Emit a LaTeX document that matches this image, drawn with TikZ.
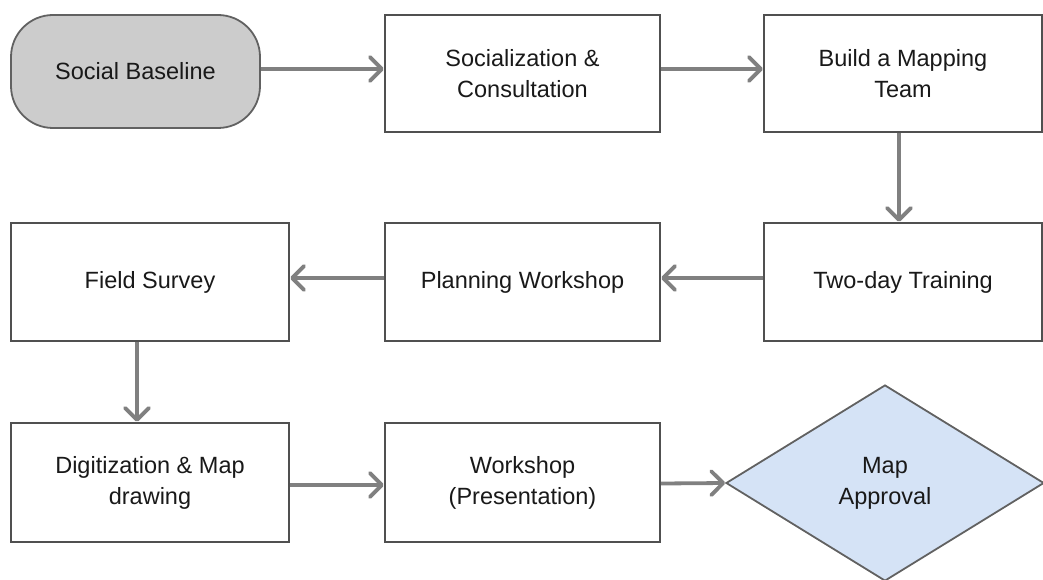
\documentclass[tikz,border=0pt]{standalone}
\usepackage{fontspec}
\setmainfont{Liberation Sans}
\usetikzlibrary{arrows.meta,shapes.geometric}
\definecolor{boxline}{HTML}{505050}
\definecolor{arrowgray}{HTML}{808080}
\definecolor{sbfill}{HTML}{CCCCCC}
\definecolor{mapfill}{HTML}{D5E3F6}
\begin{document}
\begin{tikzpicture}[x=1pt,y=-1pt,
  every node/.style={font=\fontsize{23.5}{31}\selectfont, text=black!90, align=center},
  stepbox/.style={draw=boxline, line width=2.4pt, fill=white, rectangle, inner sep=0pt},
  startbox/.style={draw=boxline!90, line width=1.8pt, fill=sbfill, rectangle, rounded corners=42pt, inner sep=0pt,
     minimum width=249pt, minimum height=113pt},
  decision/.style={draw=boxline!90, line width=1.8pt, fill=mapfill, diamond, inner sep=0pt,
     minimum width=318pt, minimum height=196pt, aspect=1.62},
  flow/.style={draw=arrowgray, line width=3.8pt, -{Straight Barb[length=12pt,width=24pt,line cap=round,line join=round]}}
]
\useasboundingbox (0,0) rectangle (1043,580);
\node[startbox] (sb) at (135.5,71.5) {Social Baseline};
\node[stepbox, minimum width=275pt, minimum height=117pt] (soc) at (522.5,73.5) {Socialization \&\\Consultation};
\node[stepbox, minimum width=278pt, minimum height=117pt] (team) at (903,73.5) {Build a Mapping\\Team};
\node[stepbox, minimum width=278pt, minimum height=118pt] (train) at (903,282) {Two-day Training};
\node[stepbox, minimum width=275pt, minimum height=118pt] (plan) at (522.5,282) {Planning Workshop};
\node[stepbox, minimum width=278pt, minimum height=118pt] (field) at (150,282) {Field Survey};
\node[stepbox, minimum width=278pt, minimum height=119pt] (digi) at (150,482.5) {Digitization \& Map\\drawing};
\node[stepbox, minimum width=275pt, minimum height=119pt] (pres) at (522.5,482.5) {Workshop\\(Presentation)};
\node[decision] (map) at (885,483) {Map\\Approval};

\draw[flow] ([yshift=2.5pt]sb.east) -- ([yshift=4.5pt]soc.west);
\draw[flow] ([yshift=4.5pt]soc.east) -- ([yshift=4.5pt]team.west);
\draw[flow] ([xshift=-4pt]team.south) -- ([xshift=-4pt]train.north);
\draw[flow] ([yshift=4pt]train.west) -- ([yshift=4pt]plan.east);
\draw[flow] ([yshift=4pt]plan.west) -- ([yshift=4pt]field.east);
\draw[flow] ([xshift=-13pt]field.south) -- ([xshift=-13pt]digi.north);
\draw[flow] ([yshift=-2.5pt]digi.east) -- ([yshift=-2.5pt]pres.west);
\draw[flow] ([yshift=-1pt]pres.east) -- (map.west);
\end{tikzpicture}
\end{document}
